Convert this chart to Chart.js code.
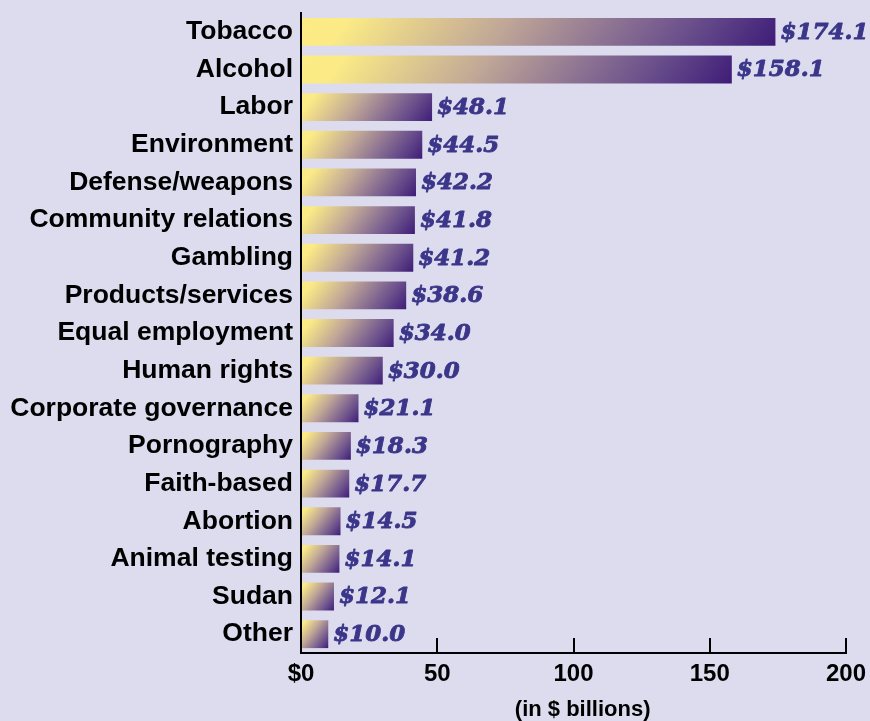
<!DOCTYPE html>
<html>
<head>
<meta charset="utf-8">
<script src="https://cdn.jsdelivr.net/npm/chart.js@4"></script>
<style>
  html, body { margin: 0; padding: 0; background: #dcdcee; }
  #wrap { width: 870px; height: 721px; position: relative; }
</style>
</head>
<body>
<div id="wrap"><canvas id="c"></canvas></div>
<script>
const categories = ["Tobacco","Alcohol","Labor","Environment","Defense/weapons","Community relations","Gambling","Products/services","Equal employment","Human rights","Corporate governance","Pornography","Faith-based","Abortion","Animal testing","Sudan","Other"];
const values = [174.1,158.1,48.1,44.5,42.2,41.8,41.2,38.6,34.0,30.0,21.1,18.3,17.7,14.5,14.1,12.1,10.0];
const xTicks = [0, 50, 100, 150, 200];
const xTickLabels = ["$0", "50", "100", "150", "200"];
const axisTitle = "(in $ billions)";

const BAR_PCT = 0.74;

function barGradient(ctx) {
  const chart = ctx.chart;
  if (!chart.chartArea || ctx.type !== 'data') return '#b9a39a';
  const xs = chart.scales.x, ys = chart.scales.y;
  const x0 = xs.getPixelForValue(0);
  const x1 = xs.getPixelForValue(values[ctx.dataIndex]);
  const yc = ys.getPixelForValue(ctx.dataIndex);
  const step = Math.abs(ys.getPixelForValue(1) - ys.getPixelForValue(0));
  const h = step * BAR_PCT;
  const top = yc - h / 2;
  const W = x1 - x0;
  const c = 0.8, s = 0.6;
  const L = W * c + h * s;
  const g = chart.ctx.createLinearGradient(x0, top, x0 + c * L, top + s * L);
  g.addColorStop(0, '#fcec84');
  g.addColorStop(0.1, '#fbea86');
  g.addColorStop(0.42, '#c0a797');
  g.addColorStop(0.65, '#8b7192');
  g.addColorStop(0.82, '#654a8a');
  g.addColorStop(1, '#3e1c77');
  return g;
}

const valueLabels = {
  id: 'valueLabels',
  afterDatasetsDraw(chart) {
    const ctx = chart.ctx;
    const meta = chart.getDatasetMeta(0);
    ctx.save();
    ctx.font = 'italic bold 23px "DejaVu Serif"';
    ctx.fillStyle = '#3b3689';
    ctx.strokeStyle = '#3b3689';
    ctx.lineWidth = 0.9;
    ctx.lineJoin = 'round';
    ctx.textAlign = 'left';
    ctx.textBaseline = 'middle';
    meta.data.forEach((bar, i) => {
      const t = '$' + values[i].toFixed(1);
      ctx.fillText(t, bar.x + 5, bar.y + 1);
      ctx.strokeText(t, bar.x + 5, bar.y + 1);
    });
    ctx.restore();
  }
};

const upTicks = {
  id: 'upTicks',
  afterDraw(chart) {
    const ctx = chart.ctx;
    const xs = chart.scales.x;
    const bottom = chart.chartArea.bottom;
    ctx.save();
    ctx.strokeStyle = '#000';
    ctx.lineWidth = 2;
    xTicks.forEach((v, i) => {
      if (i === 0) return;
      const x = Math.round(xs.getPixelForValue(v));
      ctx.beginPath();
      ctx.moveTo(x, bottom - 15);
      ctx.lineTo(x, bottom);
      ctx.stroke();
    });
    ctx.restore();
  }
};

new Chart(document.getElementById('c'), {
  type: 'bar',
  data: {
    labels: categories,
    datasets: [{
      data: values,
      backgroundColor: barGradient,
      borderWidth: 0,
      barPercentage: BAR_PCT,
      categoryPercentage: 1
    }]
  },
  options: {
    indexAxis: 'y',
    responsive: true,
    maintainAspectRatio: false,
    animation: false,
    layout: { padding: { left: 0, right: 24, top: 13, bottom: 0 } },
    plugins: { legend: { display: false }, tooltip: { enabled: false } },
    scales: {
      x: {
        min: 0, max: 200,
        afterBuildTicks(scale) { scale.ticks = xTicks.map(v => ({ value: v })); },
        afterFit(scale) { scale.height = 68; scale.paddingLeft = 0; scale.paddingRight = 0; },
        grid: { display: false, drawTicks: false },
        border: { display: true, color: '#000', width: 2, z: 1 },
        ticks: {
          color: '#000',
          padding: 7,
          maxRotation: 0,
          font: { family: '"Liberation Sans", Arial, sans-serif', size: 24, weight: 'bold' },
          callback: (v) => xTickLabels[xTicks.indexOf(v)]
        },
        title: {
          display: true,
          text: '   ' + axisTitle,
          color: '#000',
          padding: { top: 0, bottom: 0 },
          font: { family: '"Liberation Sans", Arial, sans-serif', size: 22, weight: 'bold', lineHeight: 1.0 }
        }
      },
      y: {
        afterFit(scale) { scale.width = 301; scale.paddingTop = 0; scale.paddingBottom = 0; },
        grid: { display: false, drawTicks: false },
        border: { display: true, color: '#000', width: 2, z: 1 },
        ticks: {
          color: '#000',
          padding: 8,
          autoSkip: false,
          font: { family: '"Liberation Sans", Arial, sans-serif', size: 26.5, weight: 'bold' }
        }
      }
    }
  },
  plugins: [valueLabels, upTicks]
});
</script>
</body>
</html>
